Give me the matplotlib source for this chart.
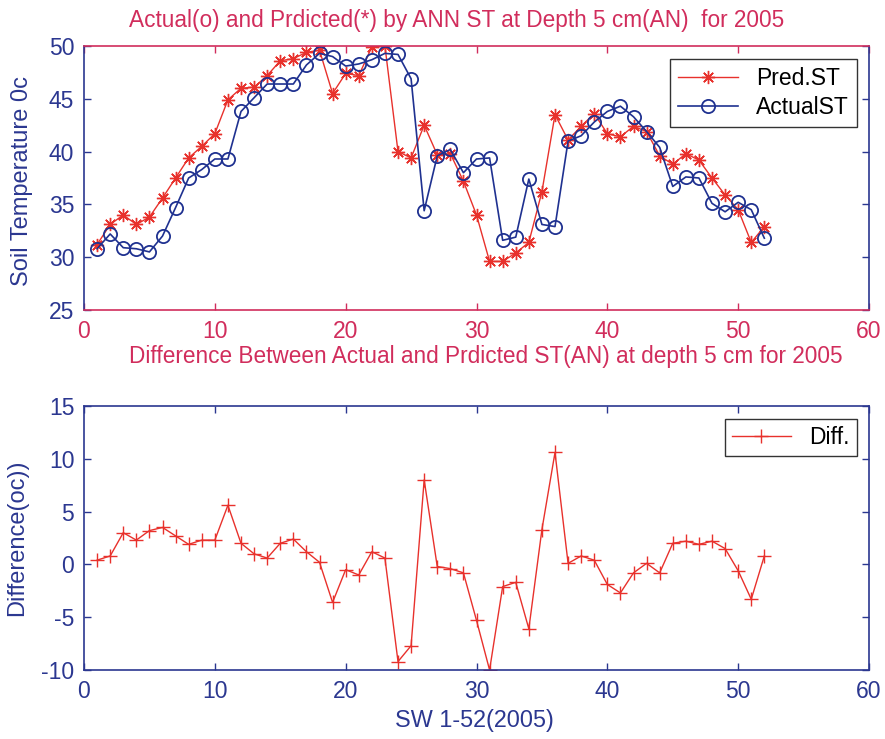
import matplotlib
matplotlib.use("Agg")
import matplotlib.pyplot as plt

plt.rcParams['font.family'] = ['Liberation Sans', 'DejaVu Sans']
plt.rcParams['axes.unicode_minus'] = False

weeks = list(range(1, 53))
pred_st = [31.2, 33.1, 34.0, 33.1, 33.8, 35.6, 37.5, 39.4, 40.5, 41.7,
           44.9, 46.0, 46.1, 47.2, 48.6, 48.8, 49.4, 49.6, 45.5, 47.4,
           47.2, 49.9, 50.0, 40.0, 39.4, 42.5, 39.7, 39.8, 37.2, 34.0,
           29.6, 29.6, 30.4, 31.4, 36.2, 43.5, 41.1, 42.4, 43.6, 41.7,
           41.4, 42.4, 41.9, 39.6, 38.8, 39.8, 39.2, 37.5, 35.9, 34.5,
           31.4, 32.9]
actual_st = [30.8, 32.2, 30.9, 30.8, 30.5, 32.0, 34.7, 37.5, 38.3, 39.3,
             39.3, 43.8, 45.1, 46.4, 46.4, 46.4, 48.2, 49.3, 49.0, 48.1,
             48.3, 48.7, 49.3, 49.2, 46.9, 34.4, 39.6, 40.2, 38.0, 39.3,
             39.4, 31.6, 31.9, 37.4, 33.1, 32.9, 41.0, 41.5, 42.8, 43.8,
             44.3, 43.3, 41.9, 40.4, 36.7, 37.6, 37.5, 35.1, 34.3, 35.2,
             34.5, 31.8]
diff_st = [0.4, 0.8, 3.0, 2.3, 3.2, 3.5, 2.7, 1.9, 2.3, 2.3,
           5.6, 2.0, 1.0, 0.6, 2.0, 2.4, 1.2, 0.2, -3.6, -0.5,
           -1.0, 1.2, 0.6, -9.2, -7.7, 8.0, -0.2, -0.4, -0.8, -5.3,
           -10.0, -2.1, -1.7, -6.1, 3.3, 10.6, 0.1, 0.8, 0.4, -1.9,
           -2.7, -0.8, 0.1, -0.8, 2.0, 2.2, 1.9, 2.2, 1.5, -0.6,
           -3.3, 0.8]

xticks = [0, 10, 20, 30, 40, 50, 60]
top_yticks = [25, 30, 35, 40, 45, 50]
bot_yticks = [-10, -5, 0, 5, 10, 15]

CRIMSON = '#d12d5c'
NAVY = '#2b3790'
RED = '#e8312c'
BLUE = '#1f3190'
FS = 16.5

fig = plt.figure(figsize=(8.85, 7.39), dpi=100)
L, W = 84 / 885, (869 - 84) / 885
ax1 = fig.add_axes([L, 1 - 310 / 739, W, 264 / 739])
ax2 = fig.add_axes([L, 1 - 670 / 739, W, 264 / 739])

ax1.plot(weeks, pred_st, color=RED, lw=1.0, marker=(8, 2, 0), ms=9.5,
         mew=1.0, label='Pred.ST')
ax1.plot(weeks, actual_st, color=BLUE, lw=1.2, marker='o', ms=9.5,
         mfc='none', mew=1.3, label='ActualST')
ax1.set_xlim(0, 60)
ax1.set_ylim(25, 50)
ax1.set_xticks(xticks)
ax1.set_yticks(top_yticks)

ax2.plot(weeks, diff_st, color=RED, lw=1.0, marker='+', ms=10, mew=1.0,
         label='Diff.')
ax2.set_xlim(0, 60)
ax2.set_ylim(-10, 15)
ax2.set_xticks(xticks)
ax2.set_yticks(bot_yticks)

for ax, xcol in ((ax1, CRIMSON), (ax2, NAVY)):
    ax.tick_params(axis='both', direction='in', top=True, right=True,
                   length=5, width=1.0, labelsize=FS)
    ax.tick_params(axis='x', colors=xcol, pad=7)
    ax.tick_params(axis='y', colors=NAVY, pad=7)
    ax.spines['top'].set_color(xcol)
    ax.spines['bottom'].set_color(xcol)
    ax.spines['left'].set_color(NAVY)
    ax.spines['right'].set_color(NAVY)
    for s in ax.spines.values():
        s.set_linewidth(1.2)

anchor = ((857 - 84) / 785, 1 - 13 / 264)
leg1 = ax1.legend(loc='upper right', fontsize=FS, frameon=True, fancybox=False,
                  edgecolor='black', borderpad=0.35, handlelength=2.6,
                  labelspacing=0.25, borderaxespad=0, bbox_to_anchor=anchor)
leg1.get_frame().set_linewidth(1.0)
leg2 = ax2.legend(loc='upper right', fontsize=FS, frameon=True, fancybox=False,
                  edgecolor='black', borderpad=0.3, handlelength=2.6,
                  borderaxespad=0, bbox_to_anchor=anchor)
leg2.get_frame().set_linewidth(1.0)

fig.text(457 / 885, 1 - 21 / 739,
         'Actual(o) and Prdicted(*) by ANN ST at Depth 5 cm(AN)  for 2005',
         ha='center', va='center', color=CRIMSON, fontsize=16.3)
fig.text(486 / 885, 1 - 357 / 739,
         'Difference Between Actual and Prdicted ST(AN) at depth 5 cm for 2005',
         ha='center', va='center', color=CRIMSON, fontsize=16.3)
fig.text(22 / 885, 1 - 181 / 739, 'Soil Temperature 0c', rotation=90,
         ha='center', va='center', color=NAVY, fontsize=17)
fig.text(17 / 885, 1 - 538 / 739, 'Difference(oc))', rotation=90,
         ha='center', va='center', color=NAVY, fontsize=17)
fig.text(474 / 885, 1 - 721 / 739, 'SW 1-52(2005)',
         ha='center', va='center', color=NAVY, fontsize=16.8)

fig.savefig('out.png', dpi=100)
